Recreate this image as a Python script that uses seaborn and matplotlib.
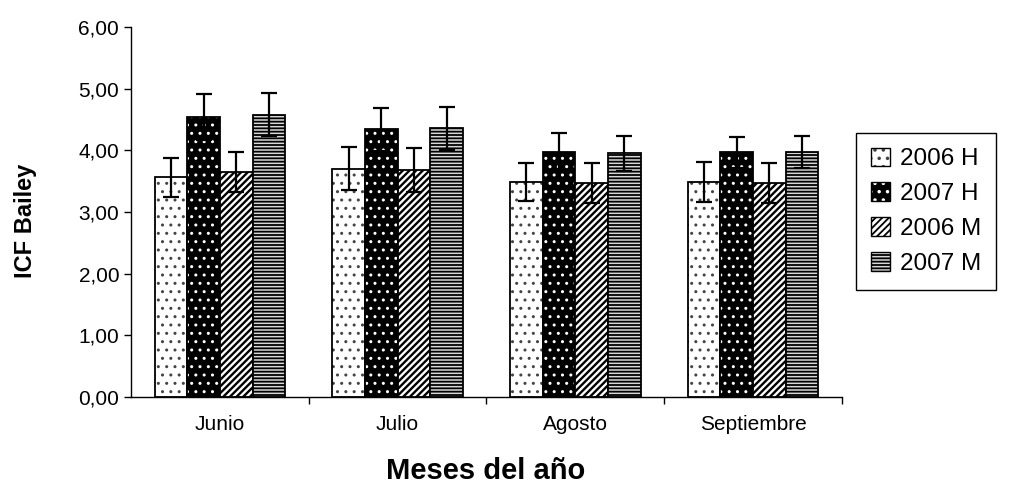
import pandas as pd
import matplotlib
matplotlib.use("Agg")
import matplotlib.pyplot as plt
import matplotlib.colors as mcolors
from matplotlib.patches import Patch
from matplotlib.ticker import FuncFormatter, FixedLocator
import seaborn as sns

# datos del grafico
meses = ["Junio", "Julio", "Agosto", "Septiembre"]
grupos = ["2006 H", "2007 H", "2006 M", "2007 M"]
icf_2006_h = [3.56, 3.70, 3.49, 3.49]
icf_2007_h = [4.54, 4.34, 3.97, 3.97]
icf_2006_m = [3.65, 3.68, 3.47, 3.47]
icf_2007_m = [4.58, 4.36, 3.95, 3.97]
err_2006_h = [0.31, 0.35, 0.31, 0.32]
err_2007_h = [0.37, 0.35, 0.31, 0.25]
err_2006_m = [0.33, 0.35, 0.32, 0.32]
err_2007_m = [0.35, 0.35, 0.28, 0.26]

valores = [icf_2006_h, icf_2007_h, icf_2006_m, icf_2007_m]
errores = [err_2006_h, err_2007_h, err_2006_m, err_2007_m]

df = pd.DataFrame({
    "mes": [m for _ in grupos for m in meses],
    "grupo": [g for g in grupos for _ in meses],
    "icf": [v for serie in valores for v in serie],
})

sns.set_theme(style="white")
plt.rcParams['font.family'] = ['Liberation Sans', 'DejaVu Sans']
plt.rcParams['text.color'] = 'black'
plt.rcParams['axes.labelcolor'] = 'black'
plt.rcParams['xtick.color'] = 'black'
plt.rcParams['ytick.color'] = 'black'
plt.rcParams['hatch.linewidth'] = 1.3

# estilo de cada serie: relleno, trama, color de trama, grosor de trama
estilos = [
    ("white", "..", "#444444", 1.0),
    ("black", "..", "white", 1.0),
    ("white", "/////", "black", 1.7),
    ("#d8d8d8", "-----", "black", 1.3),
]

fig = plt.figure(figsize=(10.11, 4.84), dpi=100)
ax = fig.add_axes([131 / 1011, 1 - 397 / 484, 711 / 1011, 370 / 484])

sns.barplot(data=df, x="mes", y="icf", hue="grupo", order=meses,
            hue_order=grupos, width=0.735, errorbar=None, legend=False,
            palette=["white"] * 4, edgecolor="black", linewidth=1.3,
            saturation=1, ax=ax)


def poner_trama(p, fc, hatch, hc, hlw):
    p.set_facecolor(fc)
    p.set_edgecolor("black")
    p.set_hatch(hatch)
    if hasattr(p, "set_hatchcolor"):
        p.set_hatchcolor(hc)
    else:
        p._hatch_color = mcolors.to_rgba(hc)
    if hasattr(p, "set_hatch_linewidth"):
        p.set_hatch_linewidth(hlw)
    else:
        p._hatch_linewidth = hlw


for cont, (fc, hatch, hc, hlw), err in zip(ax.containers, estilos, errores):
    xs, ys = [], []
    for p in cont:
        poner_trama(p, fc, hatch, hc, hlw)
        xs.append(p.get_x() + p.get_width() / 2)
        ys.append(p.get_height())
    ax.errorbar(xs, ys, yerr=err, fmt="none", ecolor="black",
                elinewidth=1.6, capsize=6, capthick=1.6, zorder=5)

ax.set_ylim(0, 6)
ax.set_xlim(-0.5, 3.5)
ax.set_yticks(range(7))
ax.yaxis.set_major_formatter(FuncFormatter(lambda v, _: f"{v:.2f}".replace(".", ",")))
ax.xaxis.set_minor_locator(FixedLocator([0.5, 1.5, 2.5, 3.5]))
ax.tick_params(axis="x", which="major", length=0, labelsize=15, pad=13)
ax.tick_params(axis="x", which="minor", length=5, width=1, direction="out", bottom=True)
ax.tick_params(axis="y", length=5, width=1, direction="out", left=True, labelsize=15)

for s in ["top", "right"]:
    ax.spines[s].set_visible(False)
for s in ["left", "bottom"]:
    ax.spines[s].set_color("black")
    ax.spines[s].set_linewidth(1)

ax.set_xlabel("")
fig.text(486 / 1011, 1 - 479 / 484, "Meses del año", fontsize=21,
         fontweight="bold", ha="center", va="baseline")
ax.set_ylabel("ICF Bailey", fontsize=17, fontweight="bold")
ax.yaxis.set_label_coords(-0.132, 0.476)

manijas = []
for fc, hatch, hc, hlw in estilos:
    h = Patch(facecolor=fc, edgecolor="black", hatch=hatch, linewidth=1)
    if hasattr(h, "set_hatchcolor"):
        h.set_hatchcolor(hc)
    else:
        h._hatch_color = mcolors.to_rgba(hc)
    manijas.append(h)

leg = fig.legend(manijas, grupos, loc="upper left",
                 bbox_to_anchor=(856 / 1011, 1 - 133 / 484),
                 fontsize=17.5, frameon=True, fancybox=False, framealpha=1,
                 edgecolor="black", handlelength=0.8, handleheight=0.8,
                 handletextpad=0.4, labelspacing=0.5, borderpad=0.6,
                 borderaxespad=0)
leg.get_frame().set_linewidth(1)

fig.savefig("out.png", dpi=100)
